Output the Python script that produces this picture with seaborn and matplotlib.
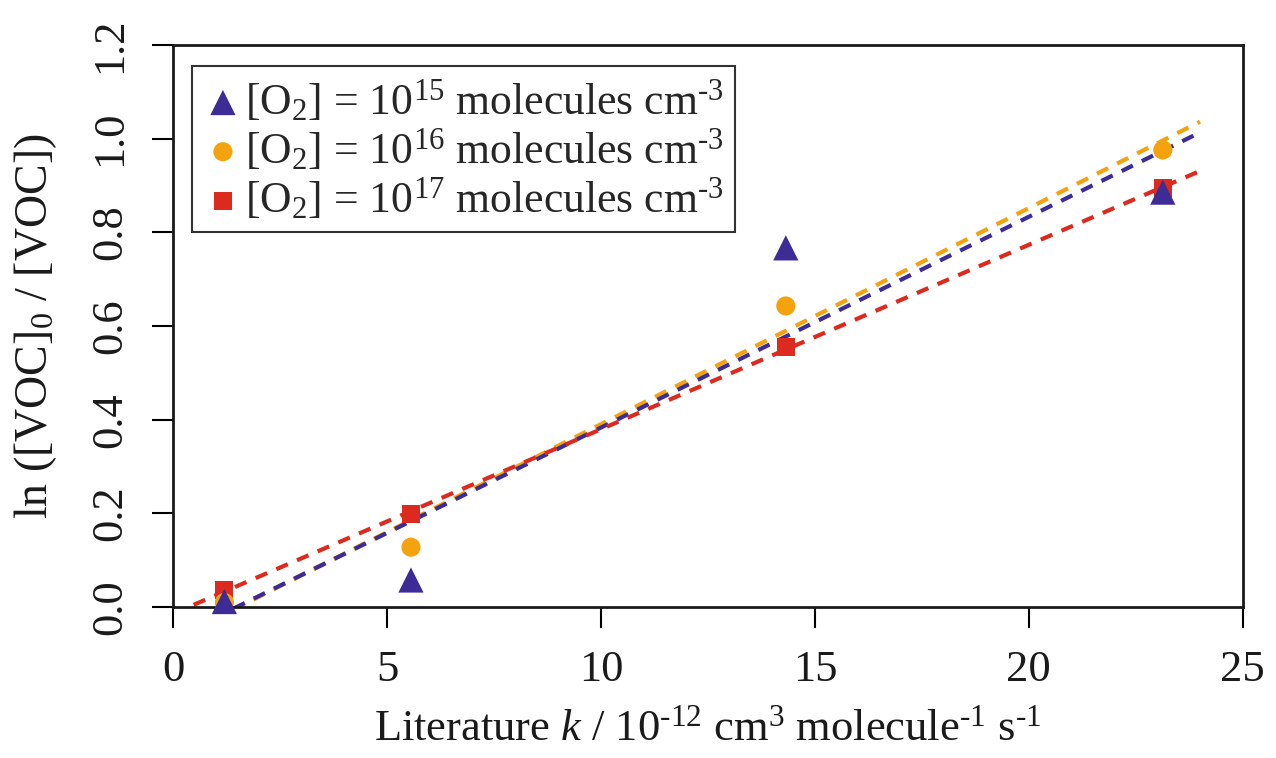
import numpy as np
import pandas as pd
import matplotlib
matplotlib.use("Agg")
import matplotlib.pyplot as plt
import seaborn as sns

# -------------------------------------------------
# data
# -------------------------------------------------
k_lit = [1.2, 5.56, 14.32, 23.13]
ln_o2_15 = [0.012, 0.058, 0.767, 0.886]
ln_o2_16 = [0.010, 0.128, 0.643, 0.976]
ln_o2_17 = [0.036, 0.199, 0.555, 0.895]

labels = [
    r"[O$_2$] = 10$^{15}$ molecules cm$^{\text{-3}}$",
    r"[O$_2$] = 10$^{16}$ molecules cm$^{\text{-3}}$",
    r"[O$_2$] = 10$^{17}$ molecules cm$^{\text{-3}}$",
]
colors = ["#3d2c96", "#f5a20f", "#dd2a1e"]
markers = ["^", "o", "s"]
msizes = [330, 190, 170]

x_ticks = [0, 5, 10, 15, 20, 25]
y_ticks = [0.0, 0.2, 0.4, 0.6, 0.8, 1.0, 1.2]

sns.set_style("ticks")
plt.rcParams["font.family"] = ["Liberation Serif", "DejaVu Serif"]
plt.rcParams["mathtext.fontset"] = "custom"
plt.rcParams["mathtext.rm"] = "Liberation Serif"
plt.rcParams["mathtext.it"] = "Liberation Serif:italic"
plt.rcParams["mathtext.bf"] = "Liberation Serif:bold"

fig = plt.figure(figsize=(12.76, 7.58), dpi=100)
ax = fig.add_axes([0.1356, 0.199, 0.974 - 0.1356, 0.9406 - 0.199])

series = [ln_o2_15, ln_o2_16, ln_o2_17]

# fitted dashed lines (orange, blue, red drawing order)
xx = np.linspace(0, 24, 200)
for i in [1, 0, 2]:
    m, c = np.polyfit(k_lit, series[i], 1)
    ax.plot(xx, m * xx + c, color=colors[i], lw=3, dashes=(3, 2.4), zorder=2)

# points
for i in [2, 1, 0]:
    df = pd.DataFrame({"k": k_lit, "y": series[i]})
    sns.scatterplot(data=df, x="k", y="y", ax=ax, color=colors[i], marker=markers[i],
                    s=msizes[i], edgecolor="none", linewidth=0, zorder=3 + (2 - i),
                    clip_on=False, label=labels[i])

h, l = ax.get_legend_handles_labels()
order = [l.index(t) for t in labels]
leg = ax.legend([h[j] for j in order], [l[j] for j in order], loc="upper left",
                bbox_to_anchor=(0.018, 0.962), fontsize=31.5, frameon=True, fancybox=False,
                handletextpad=0.05, borderpad=0.25, labelspacing=0.08, handlelength=0.9,
                borderaxespad=0)
leg.get_frame().set_edgecolor("black")
leg.get_frame().set_linewidth(1.5)

ax.set_xlim(0, 25)
ax.set_ylim(0, 1.2)
ax.set_xticks(x_ticks)
ax.set_yticks(y_ticks)
ax.set_xticklabels([str(t) for t in x_ticks])
ax.set_yticklabels([f"{t:.1f}" for t in y_ticks], rotation=90, va="center")
ax.tick_params(axis="both", labelsize=32, length=15, width=1.5, direction="out",
               pad=16, color="black", labelcolor="#1a1a1a")

for s in ax.spines.values():
    s.set_visible(True)
    s.set_linewidth(2)
    s.set_color("#1a1a1a")

ax.set_xlabel(r"Literature $k$ / 10$^{\text{-12}}$ cm$^{3}$ molecule$^{\text{-1}}$ s$^{\text{-1}}$",
              fontsize=32, labelpad=14, color="#1a1a1a")
ax.set_ylabel(r"ln ([VOC]$_0$ / [VOC])", fontsize=33, labelpad=22, color="#1a1a1a")

fig.savefig("out.png", dpi=100)
